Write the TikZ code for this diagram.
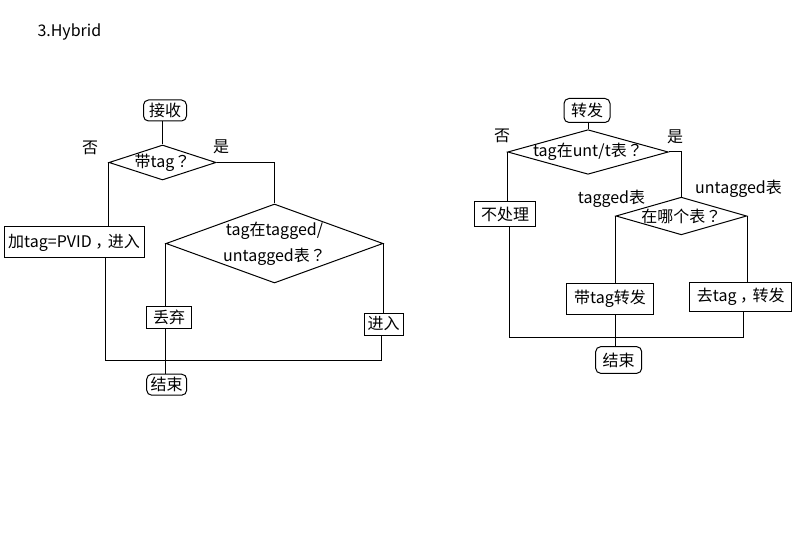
\documentclass[tikz,border=0pt]{standalone}
\usepackage{fontspec}
\setmainfont{Noto Sans CJK SC}
\newfontfamily\punctfont{Noto Sans CJK TC}
\newcommand\fwq{{\punctfont ？}}
\newcommand\fwc{{\kern0.22em ，\kern-0.22em}}
\usetikzlibrary{shapes.geometric}

\begin{document}
\begin{tikzpicture}[x=1pt, y=-1pt, line width=1pt,
    font=\fontsize{16}{20}\selectfont,
    box/.style={draw, rectangle, inner sep=0pt},
    rbox/.style={box, rounded corners=5pt},
    choice/.style={draw, diamond, inner xsep=-6pt, inner ysep=0pt}]
	\useasboundingbox (0,0) rectangle (798,540);
	\node (T1) at (37,32) [right, inner sep=0pt]{3.Hybrid};
	% left chart
	\node (L1) at (165,110.5) [rbox, minimum width=43pt, minimum height=21pt]{接收};
	\node (L2) at (162.5,162.5) [choice, aspect=3.06, minimum width=107pt, minimum height=35pt]{带tag\fwq};
	\node (L3) at (74,242.5) [box, minimum width=140pt, minimum height=31pt]{加tag=PVID\fwc 进入};
	\node (L4) at (274.5,243.5) [choice, aspect=2.75, minimum width=217pt, minimum height=79pt, align=center]{tag在tagged/\\[6pt]untagged表\fwq};
	\node (L5) at (169,317.5) [box, minimum width=45pt, minimum height=22pt]{丢弃};
	\node (L6) at (383.5,324) [box, minimum width=39pt, minimum height=22pt]{进入};
	\node (L7) at (166.7,384.7) [rbox, minimum width=40pt, minimum height=21pt]{结束};
	\node (N1) at (90,148){否};  \node (Y1) at (221,146.5){是};
	\coordinate (J1) at (105,360); \coordinate (J2) at (381,360);
	\draw (L1.south -| L2.north)--(L2.north);
	\draw (L2.west)--(L3.north -| L2.west);
	\draw (L2.east)-|(L4.north);
	\draw (L4.west)--(L5.north -| L4.west);
	\draw (L4.east)--(L6.north -| L4.east);
	\draw (L5.south -| L4.west)--(L7.north -| L4.west);
	\draw (L3.south -| J1)--(J1)--(J2)--(L6.south -| J2);
	% right chart
	\node (R1) at (587,110.5) [rbox, minimum width=46pt, minimum height=24pt]{转发};
	\node (R2) at (588,152) [choice, aspect=3.6, minimum width=150.6pt, minimum height=41.7pt]{tag在unt/t表\fwq};
	\node (R3) at (505,214) [box, minimum width=61pt, minimum height=25pt]{不处理};
	\node (R4) at (681.3,216) [choice, aspect=3.47, minimum width=130.7pt, minimum height=37.7pt]{在哪个表\fwq};
	\node (R5) at (610,299) [box, minimum width=86.7pt, minimum height=30.3pt]{带tag转发};
	\node (R6) at (740.8,296.7) [box, minimum width=101.7pt, minimum height=28.7pt]{去tag\fwc 转发};
	\node (R7) at (618.7,360) [rbox, minimum width=46pt, minimum height=26.7pt]{结束};
	\node (N2) at (502,136){否};  \node (Y2) at (675,137){是};
	\node (S1) at (611.5,198.5){tagged表};  \node (S2) at (738.5,189){untagged表};
	\coordinate (K1) at (509,337); \coordinate (K2) at (743,337);
	\draw (R1.south -| R2.north)--(R2.north);
	\draw (R2.west)--(R3.north -| R2.west);
	\draw (R2.east)-|(R4.north);
	\draw (R4.west)--(R5.north -| R4.west);
	\draw (R4.east)--(R6.north -| R4.east);
	\draw (R5.south -| R4.west)--(R7.north -| R4.west);
	\draw (R3.south -| K1)--(K1)--(K2)--(R6.south -| K2);
\end{tikzpicture}
\end{document}
